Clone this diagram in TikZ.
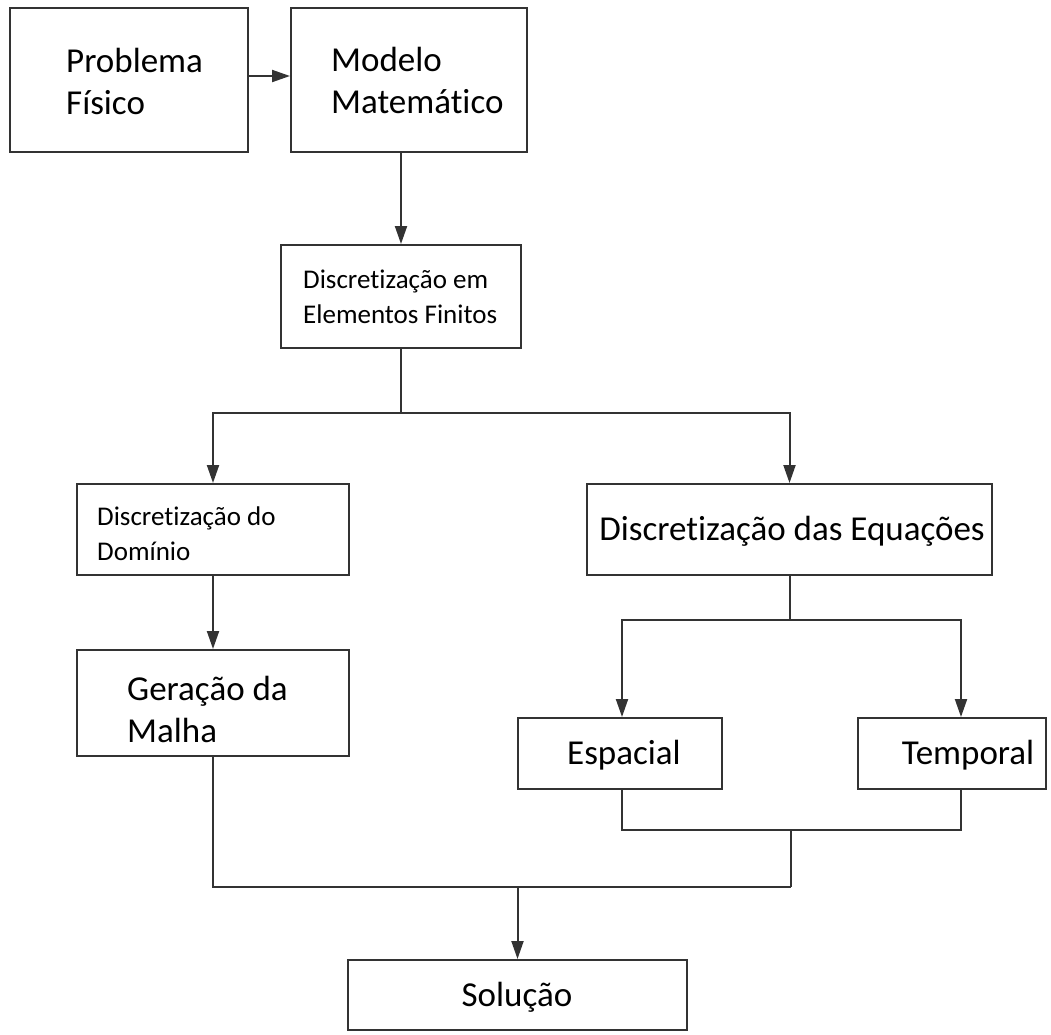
\documentclass[tikz,border=0pt]{standalone}
\usepackage{fontspec}
\setmainfont[Ligatures=NoCommon]{Carlito}
\usetikzlibrary{arrows.meta,calc}
\tikzset{
  box/.style={draw=black!80, line width=2pt, fill=white, inner sep=0pt},
  big/.style={inner sep=0pt, align=left, font=\fontsize{35}{42}\selectfont},
  small/.style={inner sep=0pt, align=left, font=\fontsize{27}{35}\selectfont},
  conn/.style={draw=black!80, line width=2pt},
  arr/.style={conn, -{Triangle[length=18pt,width=12pt]}}
}
\begin{document}
\begin{tikzpicture}[x=1pt,y=-1pt]
\useasboundingbox (0,0) rectangle (1051,1034);
% boxes
\node[box, minimum width=238pt, minimum height=144pt] (pf) at (129,80) {};
\node[box, minimum width=236pt, minimum height=144pt] (mm) at (409,80) {};
\node[box, minimum width=240pt, minimum height=103pt] (def) at (401,296.5) {};
\node[box, minimum width=272pt, minimum height=91pt] (dd) at (213,529.5) {};
\node[box, minimum width=405pt, minimum height=91pt] (deq) at (789.5,529.5) {};
\node[box, minimum width=272pt, minimum height=106pt] (gm) at (213,703) {};
\node[box, minimum width=204pt, minimum height=71pt] (esp) at (620,753.5) {};
\node[box, minimum width=188pt, minimum height=71pt] (tmp) at (952,753.5) {};
\node[box, minimum width=339pt, minimum height=70pt] (sol) at (517.5,995) {};
% texts
\node[big, anchor=west] (pft) at (66,81) {Problema\\Físico};
\node[big, anchor=west] (mmt) at (331,80) {Modelo\\Matemático};
\node[small, anchor=west] (deft) at (303,297) {Discretização em\\Elementos Finitos};
\node[small, anchor=west] (ddt) at (97,534) {Discretização do\\Domínio};
\node[big] (deqt) at (792,531) {Discretização das Equações};
\node[big, anchor=west] (gmt) at (127,709) {Geração da\\Malha};
\node[big] (espt) at (624,755) {Espacial};
\node[big] (tmpt) at (968,755) {Temporal};
\node[big] (solt) at (517,997) {Solução};
% junctions
\coordinate (j1) at (400,413);
\coordinate (j2) at (791,620);
\coordinate (j3) at (791,830);
\coordinate (j4) at (791,887);
\coordinate (tin) at ($(tmp.north)+(9,0)$);
\coordinate (tout) at ($(tmp.south)+(9,0)$);
\coordinate (ein) at ($(esp.north)+(2,0)$);
\coordinate (eout) at ($(esp.south)+(2,0)$);
% connectors
\draw[arr] ($(pf.east)+(0,-4)$) -- ($(mm.west)+(0,-4)$);
\draw[arr] (def.north |- mm.south) -- (def.north);
\draw[conn] (def.south) -- (def.south |- j1);
\draw[arr] (def.south |- j1) -| (dd.north);
\draw[arr] (def.south |- j1) -| (deq.north);
\draw[arr] (dd.south) -- (gm.north);
\draw[conn] (deq.south) -- (deq.south |- j2);
\draw[arr] (deq.south |- j2) -| (ein);
\draw[arr] (deq.south |- j2) -| (tin);
\draw[conn] (eout) |- (j3) -| (tout);
\draw[conn] (j3) -- (j4);
\draw[conn] (gm.south) |- (j4);
\draw[arr] (sol.north |- j4) -- (sol.north);
\end{tikzpicture}
\end{document}
